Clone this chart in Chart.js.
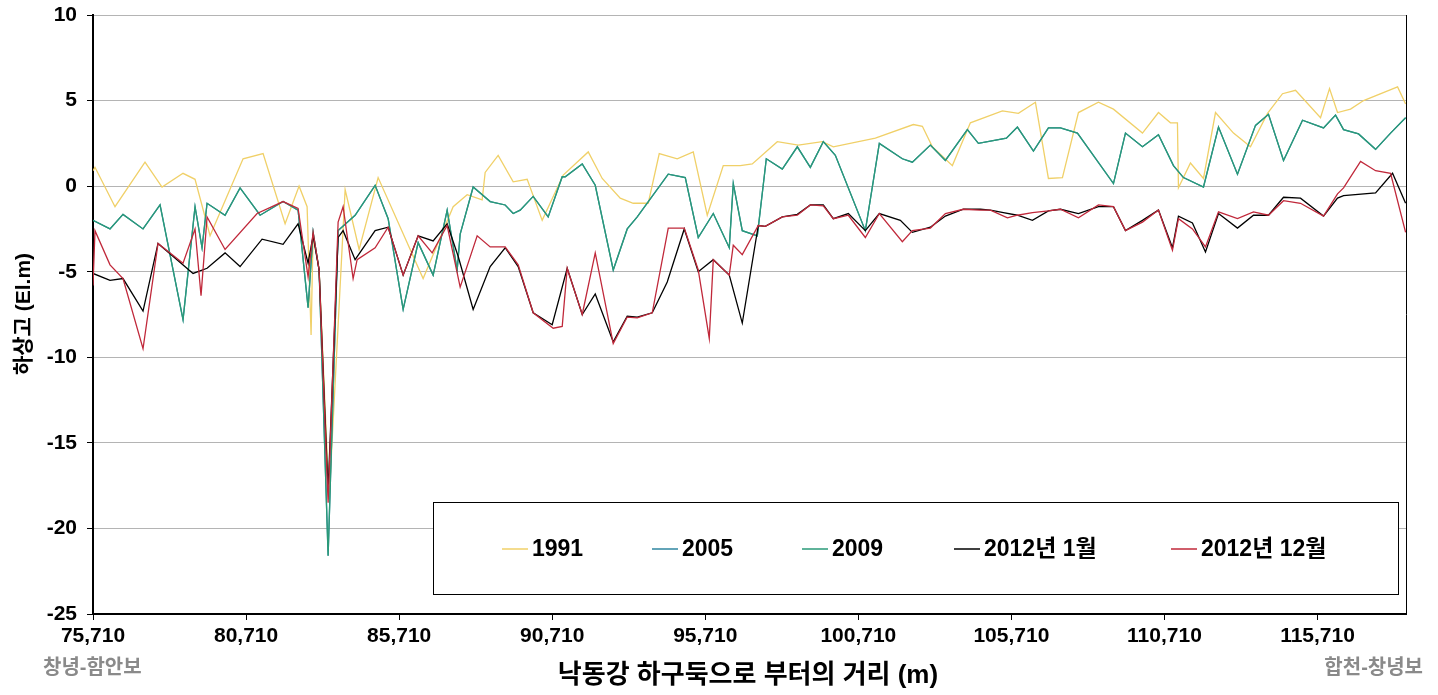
<!DOCTYPE html>
<html><head><meta charset="utf-8">
<script src="https://cdn.jsdelivr.net/npm/chart.js@4.4.0/dist/chart.umd.min.js"></script>
<style>html,body{margin:0;padding:0;background:#fff;}#wrap{width:1438px;height:695px;position:relative}</style>
</head><body><div id="wrap"><canvas id="c" width="1438" height="695"></canvas></div>
<script>
// ---- data ----
const seriesNames = ['1991', '2005', '2009', '2012년 1월', '2012년 12월'];
const xTickValues = [75710, 80710, 85710, 90710, 95710, 100710, 105710, 110710, 115710];
const yTickValues = [-25, -20, -15, -10, -5, 0, 5, 10];
const xTitle = '낙동강 하구둑으로 부터의 거리 (m)';
const yTitle = '하상고 (El.m)';
const leftNote = '창녕-함안보';
const rightNote = '합천-창녕보';

const dist1991 = [75710,75775,76429,77409,77965,78651,79043,79534,80612,81266,81985,82442,82704,82834,82900,83096,83423,83946,84403,85024,86494,87475,87932,88422,88520,88945,89436,89893,90383,91070,91887,92344,92932,93357,93847,94207,94795,95318,95775,96298,96854,97246,98063,98749,99534,99893,101266,102508,102802,103129,103782,104370,105416,105939,106495,106919,107377,107900,108553,109044,109991,110514,110906,111134,111167,111559,111985,112377,112965,113520,114076,114566,114991,115808,116102,116363,116789,117214,118325,118587];
const elev1991 = [0.9,1.1,-1.2,1.4,-0.05,0.75,0.4,-2.9,1.6,1.9,-2.2,0,-1.2,-8.7,-2.75,-4.9,-18.3,-0.2,-3.7,0.5,-5.4,-1.2,-0.5,-0.8,0.8,1.8,0.25,0.4,-2.0,0.65,2.0,0.45,-0.7,-1.0,-1.0,1.9,1.6,2.0,-1.7,1.2,1.2,1.3,2.6,2.4,2.6,2.3,2.8,3.6,3.5,2.3,1.2,3.7,4.4,4.25,4.9,0.45,0.5,4.3,4.9,4.5,3.1,4.3,3.7,3.7,-0.1,1.35,0.45,4.3,3.1,2.3,4.25,5.4,5.6,4.0,5.7,4.3,4.5,5.0,5.8,4.8];

const dist2005 = [75710,76266,76690,77344,77900,78651,79043,79272,79436,80024,80514,81168,81919,82409,82736,82900,83096,83390,83717,84272,84926,85351,85841,86331,86821,87279,87606,87704,88128,88684,89174,89436,89664,90089,90579,91037,91135,91691,92116,92704,93161,93488,94501,95057,95481,95972,96494,96625,96919,97410,97704,98227,98717,99142,99566,99959,100939,101396,102148,102475,103063,103554,104272,104632,105547,105906,106430,106919,107312,107867,109044,109436,109991,110514,111004,111330,111985,112475,113095,113684,114108,114599,115220,115906,116298,116560,117050,117606,118096,118587];
const elev2005 = [-2.0,-2.5,-1.65,-2.5,-1.1,-7.8,-1.2,-3.6,-1.0,-1.7,-0.1,-1.7,-0.9,-1.4,-7.1,-2.7,-4.9,-21.6,-2.6,-1.7,0.05,-1.9,-7.2,-3.3,-5.2,-1.4,-4.9,-2.8,-0.05,-0.9,-1.1,-1.6,-1.4,-0.6,-1.8,0.55,0.55,1.3,0.05,-4.9,-2.5,-1.8,0.7,0.5,-3.0,-1.6,-3.6,0.15,-2.6,-2.9,1.6,1.0,2.3,1.1,2.6,1.8,-2.6,2.5,1.6,1.4,2.4,1.5,3.3,2.5,2.8,3.45,2.05,3.4,3.4,3.1,0.15,3.1,2.3,3.0,1.2,0.5,-0.05,3.45,0.7,3.55,4.2,1.5,3.85,3.4,4.15,3.3,3.05,2.15,3.1,4.0];

const dist2009 = [75710,76266,76690,77344,77900,78651,79043,79272,79436,80024,80514,81168,81919,82409,82736,82900,83096,83390,83717,84272,84926,85351,85841,86331,86821,87279,87606,87704,88128,88684,89174,89436,89664,90089,90579,91037,91135,91691,92116,92704,93161,93488,94501,95057,95481,95972,96494,96625,96919,97410,97704,98227,98717,99142,99566,99959,100939,101396,102148,102475,103063,103554,104272,104632,105547,105906,106430,106919,107312,107867,109044,109436,109991,110514,111004,111330,111985,112475,113095,113684,114108,114599,115220,115906,116298,116560,117050,117606,118096,118587];
const elev2009 = [-2.0,-2.5,-1.65,-2.5,-1.1,-7.8,-1.2,-3.6,-1.0,-1.7,-0.1,-1.7,-0.9,-1.4,-7.1,-2.7,-4.9,-21.6,-2.6,-1.7,0.05,-1.9,-7.2,-3.3,-5.2,-1.4,-4.9,-2.8,-0.05,-0.9,-1.1,-1.6,-1.4,-0.6,-1.8,0.55,0.55,1.3,0.05,-4.9,-2.5,-1.8,0.7,0.5,-3.0,-1.6,-3.6,0.15,-2.6,-2.9,1.6,1.0,2.3,1.1,2.6,1.8,-2.6,2.5,1.6,1.4,2.4,1.5,3.3,2.5,2.8,3.45,2.05,3.4,3.4,3.1,0.15,3.1,2.3,3.0,1.2,0.5,-0.05,3.45,0.7,3.55,4.2,1.5,3.85,3.4,4.15,3.3,3.05,2.15,3.1,4.0];

const dist2012Jan = [75710,76266,76690,77344,77834,78978,79436,80024,80514,81233,81919,82409,82736,82900,83096,83390,83717,83880,84272,84926,85351,85841,86331,86821,87279,87638,88128,88684,89174,89599,90089,90710,91200,91691,92116,92704,93161,93488,93978,94468,95024,95481,95972,96494,96919,97442,97671,98227,98717,99142,99566,99893,100383,100939,101396,102083,102475,103063,103554,104142,104697,105024,105449,105906,106397,106919,107312,107900,108553,109044,109436,109991,110514,110971,111167,111624,112050,112475,113095,113618,114108,114599,115154,115906,116363,116560,117606,118161,118587];
const elev2012Jan = [-5.1,-5.5,-5.4,-7.3,-3.35,-5.1,-4.8,-3.9,-4.7,-3.1,-3.4,-2.2,-4.5,-2.9,-4.9,-17.8,-3.0,-2.6,-4.3,-2.6,-2.4,-5.2,-2.9,-3.2,-2.2,-4.1,-7.2,-4.7,-3.6,-4.7,-7.4,-8.1,-4.8,-7.5,-6.3,-9.1,-7.6,-7.65,-7.4,-5.6,-2.5,-5.0,-4.3,-5.2,-8.0,-2.3,-2.35,-1.8,-1.65,-1.1,-1.1,-1.9,-1.6,-2.6,-1.6,-2.0,-2.7,-2.4,-1.75,-1.35,-1.35,-1.4,-1.55,-1.7,-2.0,-1.45,-1.35,-1.6,-1.2,-1.2,-2.6,-2.0,-1.4,-3.6,-1.75,-2.15,-3.85,-1.6,-2.45,-1.7,-1.7,-0.65,-0.7,-1.75,-0.7,-0.55,-0.4,0.75,-1.0];

const dist2012Dec = [75710,75775,76266,76690,77344,77834,78651,79043,79239,79436,80024,81070,81919,82409,82736,82900,83096,83390,83717,83880,84207,84338,84926,85351,85841,86331,86789,87279,87704,88259,88684,89174,89599,90089,90743,91037,91200,91691,92116,92704,93161,93488,93978,94501,95024,95481,95841,95972,96494,96625,96919,97442,97671,98227,98717,99142,99566,99893,100383,100939,101396,102148,102475,103063,103554,104142,104697,105024,105580,105906,106397,106919,107312,107900,108553,109044,109436,109991,110514,110971,111167,111624,112050,112475,113095,113618,114108,114599,115154,115906,116363,116560,117116,117606,118096,118587];
const elev2012Dec = [-5.8,-2.6,-4.6,-5.4,-9.5,-3.35,-4.5,-2.5,-6.4,-1.8,-3.7,-1.6,-0.9,-1.3,-5.3,-2.7,-4.9,-18.5,-2.1,-1.2,-5.4,-4.3,-3.6,-2.4,-5.2,-2.9,-3.9,-2.3,-5.9,-2.9,-3.55,-3.55,-4.6,-7.4,-8.3,-8.2,-4.8,-7.5,-3.9,-9.2,-7.65,-7.7,-7.4,-2.45,-2.45,-4.9,-8.9,-4.3,-5.2,-3.45,-4.0,-2.3,-2.35,-1.8,-1.7,-1.1,-1.15,-1.9,-1.7,-3.0,-1.6,-3.25,-2.6,-2.45,-1.6,-1.35,-1.4,-1.4,-1.85,-1.7,-1.55,-1.45,-1.35,-1.85,-1.1,-1.2,-2.6,-2.1,-1.4,-3.75,-1.9,-2.5,-3.55,-1.5,-1.9,-1.5,-1.7,-0.85,-1.0,-1.75,-0.45,-0.1,1.45,0.9,0.75,-2.7];

// ---- styling ----
const FONT = '"Liberation Sans", Arial, "Noto Sans CJK KR", sans-serif';
const colors = ['#F0D068', '#2F86A0', '#2A9A78', '#000000', '#C0283A'];
const drawOrder = [4, 3, 2, 1, 0];

const pairs = [[dist1991, elev1991], [dist2005, elev2005], [dist2009, elev2009], [dist2012Jan, elev2012Jan], [dist2012Dec, elev2012Dec]];
const datasets = pairs.map(([xs, ys], i) => ({
  label: seriesNames[i],
  data: xs.map((x, j) => ({ x: x, y: ys[j] })),
  borderColor: colors[i],
  backgroundColor: colors[i],
  borderWidth: 1.3,
  pointRadius: 0,
  tension: 0,
  fill: false,
  order: drawOrder[i]
}));

const deco = {
  id: 'deco',
  afterDraw(chart) {
    const ctx = chart.ctx, a = chart.chartArea;
    ctx.save();
    // right frame line
    ctx.strokeStyle = '#000'; ctx.lineWidth = 1;
    ctx.beginPath(); ctx.moveTo(a.right + 0.5, a.top); ctx.lineTo(a.right + 0.5, a.bottom); ctx.stroke();

    // y title
    ctx.save();
    ctx.fillStyle = '#000'; ctx.font = 'bold 21px ' + FONT;
    ctx.textAlign = 'center'; ctx.textBaseline = 'middle';
    ctx.translate(24, 314); ctx.rotate(-Math.PI / 2);
    ctx.fillText(yTitle, 0, 0);
    ctx.restore();

    // x title
    ctx.fillStyle = '#000'; ctx.font = 'bold 26px ' + FONT;
    ctx.textAlign = 'center'; ctx.textBaseline = 'middle';
    ctx.fillText(xTitle, 748, 676);

    // side notes
    ctx.fillStyle = '#8a8a8a'; ctx.font = 'bold 20px ' + FONT;
    ctx.textAlign = 'left'; ctx.fillText(leftNote, 43, 668);
    ctx.textAlign = 'right'; ctx.fillText(rightNote, 1423, 668);

    // legend box
    const bx = 433, by = 502, bw = 965, bh = 92;
    ctx.fillStyle = '#fff'; ctx.fillRect(bx, by, bw, bh);
    ctx.strokeStyle = '#000'; ctx.lineWidth = 1;
    ctx.strokeRect(bx + 0.5, by + 0.5, bw, bh);
    ctx.font = 'bold 23px ' + FONT; ctx.textAlign = 'left'; ctx.textBaseline = 'middle';
    const itemX = [502, 652, 802, 954, 1171];
    const lineLen = 26, gapLT = 4, cy = 549;
    chart.data.datasets.forEach((d, i) => {
      const x = itemX[i];
      ctx.strokeStyle = d.borderColor; ctx.lineWidth = 1.5;
      ctx.beginPath(); ctx.moveTo(x, cy); ctx.lineTo(x + lineLen, cy); ctx.stroke();
      ctx.fillStyle = '#000';
      ctx.fillText(d.label, x + lineLen + gapLT, cy + 1);
    });
    ctx.restore();
  }
};

new Chart(document.getElementById('c'), {
  type: 'line',
  data: { datasets: datasets },
  options: {
    responsive: false,
    animation: false,
    layout: { padding: { left: 0, right: 32, top: 15, bottom: 0 } },
    plugins: { legend: { display: false }, tooltip: { enabled: false } },
    scales: {
      x: {
        type: 'linear',
        min: 75710,
        max: 118600,
        afterBuildTicks: s => { s.ticks = xTickValues.map(v => ({ value: v })); },
        afterFit: s => { s.height = 81; s.paddingLeft = 0; s.paddingRight = 0; },
        ticks: {
          callback: v => Number(v).toLocaleString('en-US'),
          color: '#000', font: { family: FONT, size: 21, weight: 'bold' },
          padding: 4, maxRotation: 0, autoSkip: false
        },
        grid: { display: true, drawOnChartArea: false, tickColor: '#000', tickLength: 6, lineWidth: 1 },
        border: { display: true, color: '#000', width: 2 }
      },
      y: {
        min: -25, max: 10,
        afterBuildTicks: s => { s.ticks = yTickValues.map(v => ({ value: v })); },
        afterFit: s => { s.width = 93; s.paddingTop = 0; s.paddingBottom = 0; },
        ticks: {
          callback: v => String(v),
          color: '#000', font: { family: FONT, size: 21, weight: 'bold' },
          padding: 10
        },
        grid: { color: '#b4b4b4', lineWidth: 1, tickColor: '#000', tickLength: 6 },
        border: { display: true, color: '#000', width: 2 }
      }
    }
  },
  plugins: [deco]
});
</script></body></html>
